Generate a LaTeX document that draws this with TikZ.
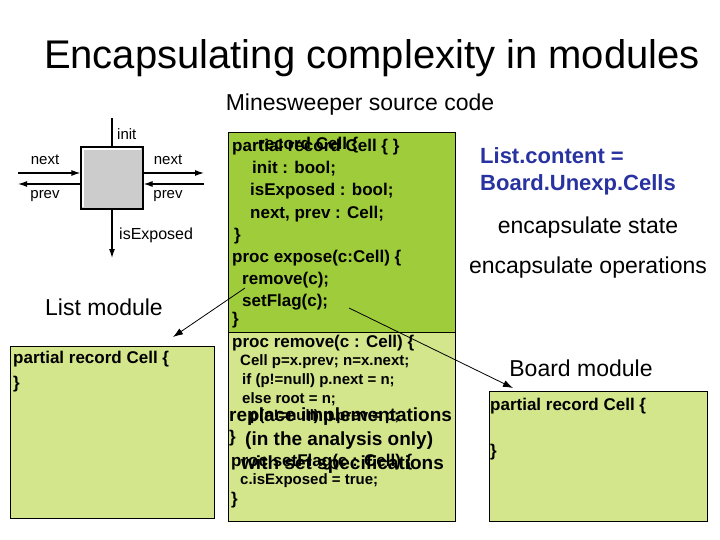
\documentclass[tikz,border=0pt]{standalone}
\usepackage{fontspec}
\setmainfont{Liberation Sans}
\usetikzlibrary{arrows.meta}
\definecolor{dg}{RGB}{158,204,58}
\definecolor{lg}{RGB}{212,230,140}
\definecolor{bl}{RGB}{40,50,160}
\begin{document}
\begin{tikzpicture}[x=1pt,y=-1pt,
 txt/.style={inner sep=0pt,anchor=west},
 code/.style={txt,font=\fontsize{17}{17}\selectfont\bfseries},
 bcode/.style={txt,font=\fontsize{17}{17}\selectfont\bfseries},
 small/.style={txt,font=\fontsize{15}{15}\selectfont\bfseries},
 big/.style={txt,font=\fontsize{19}{19}\selectfont\bfseries},
 lab/.style={inner sep=0pt,font=\fontsize{15}{15}\selectfont},
 side/.style={inner sep=0pt,font=\fontsize{23}{23}\selectfont},
 box/.style={draw=black,line width=0.8pt,fill=lg},
 arr/.style={-{Latex[length=9pt,width=6pt]},line width=1.2pt},
 ptr/.style={-{Latex[length=10pt,width=7pt]},line width=0.8pt}]
\useasboundingbox (0,0) rectangle (720,540);
\node[inner sep=0pt,font=\fontsize{40}{40}\selectfont] (title) at (372,58) {Encapsulating complexity in modules};
\node[side] (sub) at (360,105) {Minesweeper source code};
% left diagram
\node[draw=black,line width=1.2pt,fill=gray!40,minimum width=62pt,minimum height=62pt,inner sep=0pt] (sq) at (112,178) {};
\draw[white,line width=2pt] ([shift={(3,-3)}]sq.south west) -- ([shift={(3,3)}]sq.north west) -- ([shift={(-3,3)}]sq.north east);
\coordinate (top) at (112,118);
\coordinate (bot) at (112,258);
\coordinate (ln) at (18,173); \coordinate (lp) at (18,184);
\coordinate (rn) at (204,173); \coordinate (rp) at (204,184);
\draw[line width=1.2pt] (top) -- (sq.north);
\draw[arr] (sq.south) -- (bot);
\draw[arr] (ln) -- (sq.west |- ln);
\draw[arr] (sq.west |- lp) -- (lp);
\draw[arr] (sq.east |- rn) -- (rn);
\draw[arr] (rp) -- (sq.east |- rp);
\node[lab,anchor=west] (li) at (117,134) {init};
\node[lab] (lnx) at (45,160) {next};
\node[lab] (lpv) at (45,196) {prev};
\node[lab] (rnx) at (168,160) {next};
\node[lab] (rpv) at (168,196) {prev};
\node[lab,anchor=west,font=\fontsize{16}{16}\selectfont] (lis) at (119,235) {isExposed};
\node[side] (lm) at (104,307) {List module};
\node[side] (bm) at (581,368) {Board module};
% boxes
\node[box,minimum width=204pt,minimum height=172pt,anchor=north west,inner sep=0pt] (lbox) at (10,346) {};
\node[box,minimum width=218pt,minimum height=130pt,anchor=north west,inner sep=0pt] (rbox) at (489,391) {};
\draw[box,fill=dg] (228,132) rectangle (455,332);
\draw[box] (228,332) rectangle (455,521);
\node[code] (l1a) at (232,147) {partial record Cell \{ \}};
\node[code] (l1b) at (258,145) {record Cell \{};
\node[code] (l2) at (252,169) {init : bool;};
\node[code] (l3) at (250,191) {isExposed : bool;};
\node[code] (l4) at (250,214) {next, prev : Cell;};
\node[code] (l5) at (234,236) {\}};
\node[code] (l6) at (232,258) {proc expose(c:Cell) \{};
\node[code] (l7) at (242,280) {remove(c);};
\node[code] (l8) at (242,302) {setFlag(c);};
\node[code] (l9) at (232,320) {\}};
\node[code] (l10) at (232,343) {proc remove(c : Cell) \{};
\node[small] (l11) at (240,362) {Cell p=x.prev; n=x.next;};
\node[small] (l12) at (242,381) {if (p!=null) p.next = n;};
\node[small] (l13) at (242,399) {else root = n;};
\node[small] (l14) at (250,417) {p(n!=null) n.prev = p;};
\node[big] (l15) at (229,417) {replace implementations};
\node[code] (l16) at (229,438) {\}};
\node[big] (l17) at (245,441) {(in the analysis only)};
\node[code] (l18) at (231,462) {proc setFlag(c : Cell) \{};
\node[big] (l19) at (241,465) {with set specifications};
\node[small] (l20) at (240,481) {c.isExposed = true;};
\node[code] (l21) at (231,500) {\}};
\node[bcode] (lb1) at (13,359) {partial record Cell \{};
\node[bcode] (lb2) at (13,384) {\}};
\node[bcode] (rb1) at (490,406) {partial record Cell \{};
\node[bcode] (rb2) at (490,452) {\}};
% right texts
\node[txt,font=\fontsize{22}{22}\selectfont\bfseries,text=bl] (b1) at (480,156) {List.content =};
\node[txt,font=\fontsize{22}{22}\selectfont\bfseries,text=bl] (b2) at (480,185) {Board.Unexp.Cells};
\node[side] (es) at (588,228) {encapsulate state};
\node[side] (eo) at (588,268) {encapsulate operations};
% pointers
\coordinate (p1s) at (245,288); \coordinate (p1e) at (173,337);
\coordinate (p2s) at (349,308); \coordinate (p2e) at (513,388);
\draw[ptr] (p1s) -- (p1e);
\draw[ptr] (p2s) -- (p2e);
\end{tikzpicture}
\end{document}
